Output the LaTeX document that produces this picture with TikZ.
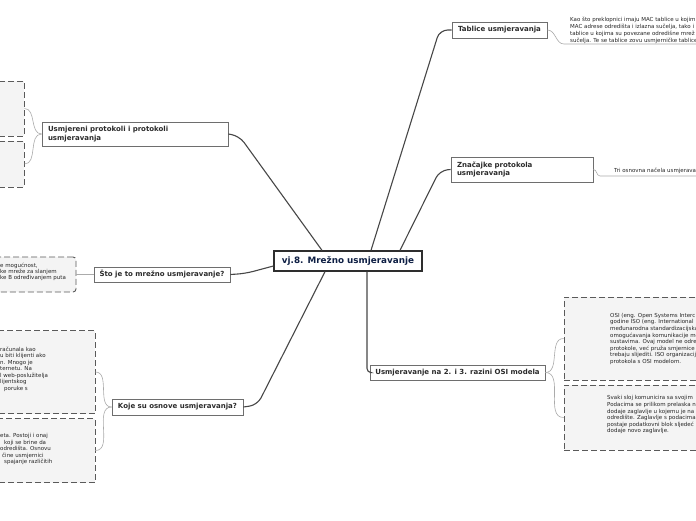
\documentclass[tikz,border=0pt]{standalone}
\usepackage{fontspec}
\setmainfont{DejaVu Sans}
\usetikzlibrary{calc}
\definecolor{linec}{HTML}{474747}
\definecolor{thinc}{HTML}{ABABAB}
\definecolor{navy}{HTML}{0E1F44}
\definecolor{mainborder}{HTML}{2E2E2E}
\definecolor{branchborder}{HTML}{6E6E6E}
\definecolor{branchtext}{HTML}{2B2B2B}
\definecolor{noteborder}{HTML}{5A5A5A}
\definecolor{notefill}{HTML}{F4F4F4}
\definecolor{notetextc}{HTML}{262626}
\tikzset{
 mainbox/.style={draw=mainborder, line width=1.3pt, fill=white, font=\bfseries\fontsize{8.8}{10}\selectfont, text=navy, inner sep=0pt},
 branch/.style={draw=branchborder, line width=0.8pt, fill=white, font=\bfseries\fontsize{7}{8.6}\selectfont, text=branchtext, inner sep=0pt},
 notebox/.style={draw=noteborder, line width=0.9pt, dash pattern=on 6pt off 3pt, fill=notefill, inner sep=0pt},
 notetext/.style={font=\fontsize{5.5}{6.6}\selectfont, text=notetextc, align=left, inner sep=0pt, anchor=north west},
 conn/.style={draw=linec, line width=1.1pt, rounded corners=8pt},
 thinconn/.style={draw=thinc, line width=0.6pt},
}
\begin{document}
\begin{tikzpicture}[x=1pt,y=-1pt]
\useasboundingbox (0,0) rectangle (696,520);
\clip (0,0) rectangle (696,520);
\fill[white] (0,0) rectangle (696,520);

% central
\node[mainbox, minimum width=148pt, minimum height=20pt] (c) at (348,261) {vj.8. Mrežno usmjeravanje};

% branches
\node[branch, minimum width=95pt, minimum height=16pt] (tab) at (499.5,30) {Tablice usmjeravanja};
\node[branch, minimum width=142pt, minimum height=25pt, text width=130pt, align=left] (zna) at (522,169.5) {Značajke protokola\\usmjeravanja};
\node[branch, minimum width=175pt, minimum height=15pt] (osi) at (457.5,372.5) {Usmjeravanje na 2. i 3. razini OSI modela};
\node[branch, minimum width=131pt, minimum height=16pt] (koje) at (177.5,407) {Koje su osnove usmjeravanja?};
\node[branch, minimum width=136pt, minimum height=15pt] (sto) at (162,274.5) {Što je to mrežno usmjeravanje?};
\node[branch, minimum width=186pt, minimum height=24pt, text width=174pt, align=left] (usm) at (135,134) {Usmjereni protokoli i protokoli\\usmjeravanja};

% main connectors
\draw[conn] ($(c.north)+(23,0)$) -- ($(tab.west)+(-12,0)$) -- (tab.west);
\draw[conn] ($(c.north)+(52,0)$) -- ($(zna.west)+(-11,1)$) -- (zna.west);
\draw[conn] ($(c.north)+(-26,0)$) -- ($(usm.east)+(11,2)$) -- (usm.east);
\draw[conn] ($(c.west)+(0,5)$) -- ($(sto.east)+(15,-1)$) -- (sto.east);
\draw[conn] ($(c.south)+(-23,0)$) -- ($(koje.east)+(14,-2)$) -- (koje.east);
\draw[conn, rounded corners=4pt] ($(c.south)+(19,0)$) |- (osi.west);

% notes: Tablice
\coordinate (tabu) at (564,44);
\draw[thinconn] (tab.east) to[out=0,in=180] (tabu) -- ++(140,0);
\node[notetext, font=\fontsize{5.5}{7}\selectfont] (tabn) at (570,16.5) {Kao što preklopnici imaju MAC tablice u kojim\\MAC adrese odredišta i izlazna sučelja, tako i\\tablice u kojima su povezane odredišne mrež\\sučelja. Te se tablice zovu usmjerničke tablice};

% notes: Znacajke
\coordinate (znau) at (600,176);
\draw[thinconn] (zna.east) to[out=0,in=180] (znau) -- ++(110,0);
\node[notetext] (znan) at (614,167.5) {Tri osnovna načela usmjerava};

% notes: OSI
\node[notebox, minimum width=141pt, minimum height=83pt] (osi1) at (634.5,338.5) {};
\node[notebox, minimum width=141pt, minimum height=65pt] (osi2) at (634.5,417.5) {};
\draw[thinconn] (osi.east) to[out=0,in=180] (osi1.west);
\draw[thinconn] (osi.east) to[out=0,in=180] (osi2.west);
\node[notetext] (osi1t) at (610,313) {OSI (eng. Open Systems Interc\\godine ISO (eng. International\\međunarodna standardizacijska\\omogućavanja komunikacije me\\sustavima. Ovaj model ne odre\\protokole, već pruža smjernice\\trebaju slijediti. ISO organizacij\\protokola s OSI modelom.};
\node[notetext] (osi2t) at (607,395.5) {Svaki sloj komunicira sa svojim\\Podacima se prilikom prelaska n\\dodaje zaglavlje u kojemu je na\\odredište. Zaglavlje s podacima\\postaje podatkovni blok sljedeć\\dodaje novo zaglavlje.};

% notes: Usmjereni
\node[notebox, minimum width=34pt, minimum height=55pt] (ua) at (7,108.5) {};
\node[notebox, minimum width=34pt, minimum height=46pt] (ub) at (7,164) {};
\draw[thinconn] (usm.west) to[out=180,in=0] (ua.east);
\draw[thinconn] (usm.west) to[out=180,in=0] (ub.east);

% notes: Sto
\node[notebox, rounded corners=3pt, minimum width=86pt, minimum height=35pt] (sn) at (33,274.5) {};
\draw[thinconn] (sto.west) -- (sn.east);
\node[notetext, font=\fontsize{5.5}{6}\selectfont] (snt) at (0,262.5) {e mogućnost,\\ke mreže za slanjem\\ke B određivanjem puta};

% notes: Koje
\node[notebox, minimum width=105pt, minimum height=83pt] (kb1) at (42.5,372) {};
\node[notebox, minimum width=105pt, minimum height=64pt] (kb2) at (42.5,450.5) {};
\draw[thinconn] (koje.west) to[out=180,in=0] (kb1.east);
\draw[thinconn] (koje.west) to[out=180,in=0] (kb2.east);
\node[notetext, font=\fontsize{5.5}{6.5}\selectfont] (kb1t) at (0,346.5) {računala kao\\u biti klijenti ako\\n. Mnogo je\\ternetu. Na\\l web-poslužitelja\\lijentskog\\\hspace*{4pt}poruke s};
\node[notetext, font=\fontsize{5.5}{6.5}\selectfont] (kb2t) at (0,433.5) {eta. Postoji i onaj\\\hspace*{4pt}koji se brine da\\odredišta. Osnovu\\\hspace*{2pt}čine usmjernici\\\hspace*{4pt}spajanje različitih};
\end{tikzpicture}
\end{document}
